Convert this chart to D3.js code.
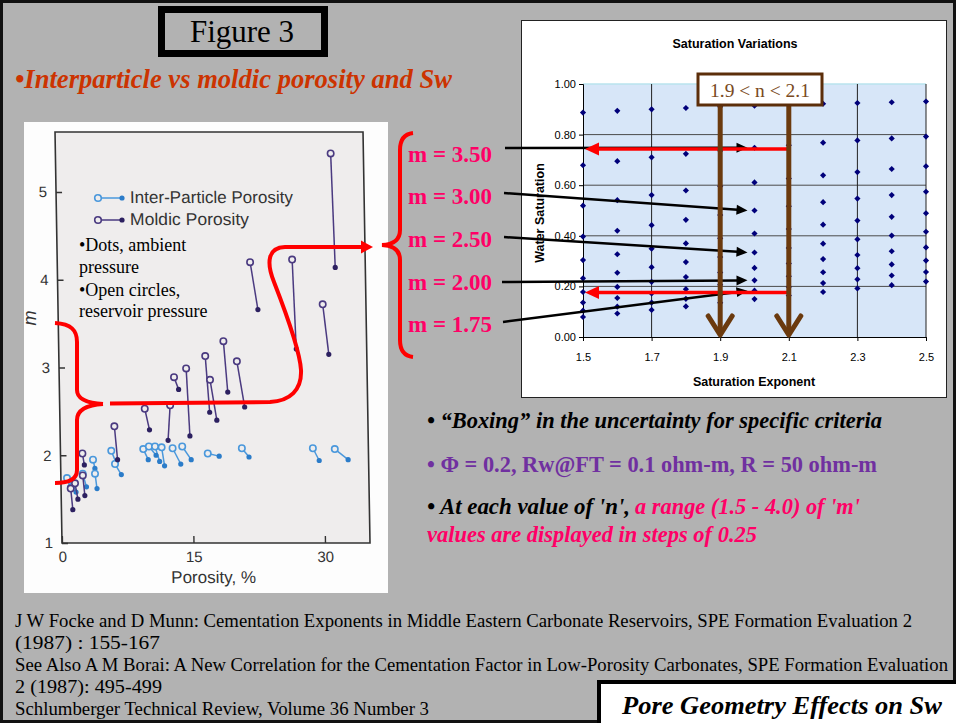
<!DOCTYPE html>
<html><head><meta charset="utf-8">
<script src="https://cdn.jsdelivr.net/npm/d3@7"></script>
<style>body{margin:0;background:#b2b2b2}svg{display:block}</style>
</head><body>
<script>
// ---------------- DATA ----------------
// Right chart: Saturation Variations (Sw vs n, one column per n, one dot per m)
const nValues = [1.5, 1.6, 1.7, 1.8, 1.9, 2.0, 2.1, 2.2, 2.3, 2.4, 2.5];
const mValues = [1.5, 1.75, 2.0, 2.25, 2.5, 2.75, 3.0, 3.25, 3.5, 3.75];
const swByN = [
  [0.079, 0.104, 0.136, 0.178, 0.232, 0.304, 0.397, 0.519, 0.679, 0.887],
  [0.093, 0.120, 0.154, 0.198, 0.254, 0.327, 0.420, 0.541, 0.695, 0.894],
  [0.107, 0.136, 0.172, 0.218, 0.276, 0.349, 0.442, 0.561, 0.710, 0.900],
  [0.121, 0.151, 0.189, 0.237, 0.296, 0.370, 0.463, 0.579, 0.724, 0.905],
  [0.135, 0.167, 0.207, 0.255, 0.316, 0.390, 0.482, 0.596, 0.736, 0.910],
  [0.150, 0.183, 0.224, 0.273, 0.334, 0.409, 0.500, 0.611, 0.748, 0.914],
  [0.164, 0.198, 0.240, 0.291, 0.352, 0.427, 0.517, 0.626, 0.758, 0.918],
  [0.178, 0.213, 0.256, 0.308, 0.369, 0.444, 0.533, 0.639, 0.768, 0.922],
  [0.192, 0.228, 0.272, 0.324, 0.386, 0.460, 0.547, 0.652, 0.777, 0.925],
  [0.205, 0.243, 0.287, 0.339, 0.401, 0.475, 0.561, 0.664, 0.785, 0.928],
  [0.219, 0.257, 0.302, 0.354, 0.416, 0.489, 0.574, 0.675, 0.792, 0.931]
];
const satXTicks = [1.5, 1.7, 1.9, 2.1, 2.3, 2.5];
const satYTicks = [0, 0.2, 0.4, 0.6, 0.8, 1.0];
const highlightM = [3.5, 3.0, 2.5, 2.0, 1.75];
const highlightLabels = ["m = 3.50", "m = 3.00", "m = 2.50", "m = 2.00", "m = 1.75"];
const highlightN = 2.0;
const boxN = [1.9, 2.1];
const boxSw = [0.743, 0.176];

// Left chart: m vs porosity, pairs [phiOpen, mOpen, phiDot, mDot]
const porTicks = [0, 15, 30];
const mTicks = [1, 2, 3, 4, 5];
const interParticle = [
  [0.7, 1.74, 1.0, 1.64], [1.4, 1.67, 1.7, 1.58], [2.5, 1.79, 2.9, 1.64],
  [3.7, 1.95, 3.9, 1.85], [3.9, 1.79, 4.1, 1.62], [5.8, 2.05, 6.3, 1.92],
  [6.2, 1.90, 6.9, 1.78], [9.45, 2.07, 10.0, 1.95], [10.1, 2.10, 10.9, 2.00],
  [10.8, 2.10, 11.3, 1.93], [11.55, 2.09, 11.85, 1.88], [12.8, 2.08, 13.7, 1.90],
  [13.9, 2.10, 14.9, 1.95], [16.8, 2.02, 18.1, 1.99], [20.7, 2.08, 21.5, 1.98],
  [28.8, 2.08, 29.5, 1.94], [31.3, 2.07, 32.8, 1.95]
];
const moldic = [
  [1.1, 1.62, 1.3, 1.38], [1.6, 1.68, 1.9, 1.50], [2.5, 1.77, 2.7, 1.54],
  [2.5, 2.02, 2.7, 1.89], [6.2, 2.33, 6.5, 1.95], [9.7, 2.53, 10.2, 2.29],
  [12.6, 2.57, 12.3, 2.17], [13.1, 2.89, 13.6, 2.75], [14.5, 2.99, 14.8, 2.22],
  [16.7, 3.13, 17.1, 2.49], [17.2, 2.86, 17.9, 2.40], [18.8, 3.30, 19.2, 2.72],
  [20.3, 3.07, 21.1, 2.55], [22.0, 4.20, 22.8, 3.66], [26.8, 4.23, 27.1, 3.21],
  [30.2, 3.72, 30.8, 3.15], [31.4, 5.44, 31.7, 4.14]
];

// ---------------- DRAW ----------------
const SERIF = "'Liberation Serif','Times New Roman',serif";
const SANS = "'Liberation Sans',Arial,Helvetica,sans-serif";
const svg = d3.select("body").append("svg").attr("width", 956).attr("height", 723);

svg.append("rect").attr("width", 956).attr("height", 723).attr("fill", "#b2b2b2");
svg.append("rect").attr("x", 1.5).attr("y", 1.5).attr("width", 953).attr("height", 720)
  .attr("fill", "none").attr("stroke", "#111").attr("stroke-width", 3);

function arrow(g, x1, y1, x2, y2, col, w, hl, hw) {
  const a = Math.atan2(y2 - y1, x2 - x1);
  const bx = x2 - hl * Math.cos(a), by = y2 - hl * Math.sin(a);
  g.append("line").attr("x1", x1).attr("y1", y1).attr("x2", bx + Math.cos(a)).attr("y2", by + Math.sin(a))
    .attr("stroke", col).attr("stroke-width", w);
  g.append("polygon").attr("fill", col).attr("points", [
    [x2, y2],
    [bx + hw * Math.sin(a), by - hw * Math.cos(a)],
    [bx - hw * Math.sin(a), by + hw * Math.cos(a)]
  ].map(p => p.join(",")).join(" "));
}

// Figure 3 title box
svg.append("rect").attr("x", 161.5).attr("y", 9.5).attr("width", 163).attr("height", 44)
  .attr("fill", "none").attr("stroke", "#000").attr("stroke-width", 7);
svg.append("text").attr("x", 242).attr("y", 42).attr("text-anchor", "middle")
  .attr("font-family", SERIF).attr("font-size", 31).attr("fill", "#000").text("Figure 3");

svg.append("text").attr("x", 15).attr("y", 88).attr("font-family", SERIF).attr("font-size", 27)
  .attr("font-weight", "bold").attr("font-style", "italic").attr("fill", "#cc3300")
  .attr("textLength", 437).attr("lengthAdjust", "spacingAndGlyphs")
  .text("•Interparticle vs moldic porosity and Sw");

// ---------------- LEFT SCANNED CHART ----------------
svg.append("rect").attr("x", 24).attr("y", 122).attr("width", 364).attr("height", 471).attr("fill", "#fdfdfd");
const k = 0.017, base = 543;
const lg = svg.append("g").attr("transform", `translate(${-k * base},0) skewX(${Math.atan(k) * 180 / Math.PI})`);
const xL = d3.scaleLinear().domain([0, 30]).range([62, 325]);
const yL = d3.scaleLinear().domain([1, 5]).range([543, 192]);
lg.append("rect").attr("x", 62).attr("y", 132).attr("width", 308).attr("height", 411)
  .attr("fill", "#efeded").attr("stroke", "#333").attr("stroke-width", 1.6);

const axL = lg.append("g").attr("transform", "translate(62,0)")
  .call(d3.axisLeft(yL).tickValues(mTicks).tickSize(-6).tickPadding(9).tickFormat(d3.format("d")));
const axB = lg.append("g").attr("transform", "translate(0,543)")
  .call(d3.axisBottom(xL).tickValues(porTicks).tickSize(-7).tickPadding(8).tickFormat(d3.format("d")));
[axL, axB].forEach(a => {
  a.select(".domain").remove();
  a.selectAll("line").attr("stroke", "#333").attr("stroke-width", 1.4);
  a.selectAll("text").attr("font-family", SANS).attr("font-size", 15).attr("fill", "#333");
});
lg.append("text").attr("x", 213).attr("y", 583).attr("text-anchor", "middle")
  .attr("font-family", SANS).attr("font-size", 17).attr("fill", "#333").text("Porosity, %");

function drawPairs(data, lineCol, dotCol) {
  const g = lg.append("g");
  g.selectAll("line").data(data).join("line")
    .attr("x1", d => xL(d[0])).attr("y1", d => yL(d[1]))
    .attr("x2", d => xL(d[2])).attr("y2", d => yL(d[3]))
    .attr("stroke", lineCol).attr("stroke-width", 1.5);
  g.selectAll("circle.dot").data(data).join("circle").attr("class", "dot")
    .attr("cx", d => xL(d[2])).attr("cy", d => yL(d[3])).attr("r", 2.6).attr("fill", dotCol);
  g.selectAll("circle.open").data(data).join("circle").attr("class", "open")
    .attr("cx", d => xL(d[0])).attr("cy", d => yL(d[1])).attr("r", 3.2)
    .attr("fill", "#efeded").attr("stroke", lineCol).attr("stroke-width", 1.6);
}
drawPairs(interParticle, "#4a98dc", "#2b7cc9");
drawPairs(moldic, "#4a3a80", "#2c2060");

// legend (local, skewed coordinates)
const legend = [["Inter-Particle Porosity", "#4a98dc", "#2b7cc9", 198, 203, 163], ["Moldic Porosity", "#4a3a80", "#2c2060", 220, 225, 119]];
legend.forEach(([t, c, dc, ly, by, tl]) => {
  const off = k * (base - ly);
  lg.append("line").attr("x1", 98 + off).attr("x2", 122 + off).attr("y1", ly).attr("y2", ly).attr("stroke", c).attr("stroke-width", 1.6);
  lg.append("circle").attr("cx", 122 + off).attr("cy", ly).attr("r", 2.6).attr("fill", dc);
  lg.append("circle").attr("cx", 98 + off).attr("cy", ly).attr("r", 3.3).attr("fill", "#efeded").attr("stroke", c).attr("stroke-width", 1.6);
  lg.append("text").attr("x", 130 + off).attr("y", by).attr("font-family", SANS).attr("font-size", 17)
    .attr("fill", "#333").attr("textLength", tl).attr("lengthAdjust", "spacingAndGlyphs").text(t);
});
svg.append("text").attr("transform", "translate(36,318) rotate(-90)").attr("text-anchor", "middle")
  .attr("font-family", SANS).attr("font-style", "italic").attr("font-size", 18).attr("fill", "#333").text("m");

// notes
[["•Dots, ambient", 251], ["pressure", 273], ["•Open circles,", 296], ["reservoir pressure", 317]].forEach(([t, y]) => {
  svg.append("text").attr("x", 79).attr("y", y).attr("font-family", SERIF).attr("font-size", 18).attr("fill", "#000").text(t);
});

// red bracket + connector on left chart
const red = svg.append("g").attr("fill", "none").attr("stroke", "#ff0000").attr("stroke-width", 4);
red.append("path").attr("d", "M55,323 C71,324 77,330 77,342 L77,390 C77,398 86,403 103,404");
red.append("path").attr("d", "M103,404 C86,405 77,410 77,420 L77,470 C77,478 70,483 55,483");
red.append("path").attr("d", "M110,403.5 L270,402 C290,401 302,390 301,370 C300,352 288,318 274,282 C266,262 268,247.5 285,247 L362,247");
svg.append("polygon").attr("fill", "#ff0000").attr("points", "373,247 361,240.5 361,253.5");

// ---------------- RIGHT: SATURATION VARIATIONS ----------------
svg.append("rect").attr("x", 521.5).attr("y", 20.5).attr("width", 425).attr("height", 377)
  .attr("fill", "#fff").attr("stroke", "#222").attr("stroke-width", 1);
const xS = d3.scaleLinear().domain([1.5, 2.5]).range([583, 926]);
const yS = d3.scaleLinear().domain([0, 1]).range([337, 84]);
svg.append("rect").attr("x", 583).attr("y", 84).attr("width", 343).attr("height", 253)
  .attr("fill", "#d7e6f8");
svg.append("line").attr("x1", 583).attr("x2", 926).attr("y1", 84).attr("y2", 84).attr("stroke", "#b9e3ee").attr("stroke-width", 1.5);
const sg = svg.append("g");
sg.selectAll("line.h").data(satYTicks.filter(v => v > 0 && v < 1)).join("line").attr("class", "h")
  .attr("x1", 583).attr("x2", 926).attr("y1", d => yS(d)).attr("y2", d => yS(d)).attr("stroke", "#4a4a4a").attr("stroke-width", 1);
sg.selectAll("line.v").data(satXTicks.slice(1)).join("line").attr("class", "v")
  .attr("y1", 84).attr("y2", 337).attr("x1", d => xS(d)).attr("x2", d => xS(d)).attr("stroke", "#222").attr("stroke-width", 1);
const ay = sg.append("g").attr("transform", "translate(583,0)")
  .call(d3.axisLeft(yS).tickValues(satYTicks).tickSize(4).tickPadding(3).tickFormat(d3.format(".2f")));
const ax = sg.append("g").attr("transform", "translate(0,337)")
  .call(d3.axisBottom(xS).tickValues(satXTicks).tickSize(4).tickPadding(12).tickFormat(d3.format(".1f")));
[ay, ax].forEach(a => {
  a.select(".domain").attr("stroke", "#000");
  a.selectAll("line").attr("stroke", "#000");
  a.selectAll("text").attr("font-family", SANS).attr("font-size", 11).attr("fill", "#000");
});
const pts = [];
nValues.forEach((n, i) => swByN[i].forEach((s, j) => pts.push({ n, m: mValues[j], s })));
sg.selectAll("path.pt").data(pts).join("path").attr("class", "pt")
  .attr("d", d3.symbol(d3.symbolSquare, 19))
  .attr("transform", d => `translate(${xS(d.n)},${yS(d.s)}) rotate(45)`).attr("fill", "#00007a");

svg.append("text").attr("x", 735).attr("y", 48).attr("text-anchor", "middle").attr("font-family", SANS)
  .attr("font-weight", "bold").attr("font-size", 12.5).text("Saturation Variations");
svg.append("text").attr("x", 754).attr("y", 386).attr("text-anchor", "middle").attr("font-family", SANS)
  .attr("font-weight", "bold").attr("font-size", 12.5).text("Saturation Exponent");
svg.append("text").attr("transform", "translate(544,213) rotate(-90)").attr("text-anchor", "middle").attr("font-family", SANS)
  .attr("font-weight", "bold").attr("font-size", 12.5).text("Water Saturation");

// m labels + black arrows
const labelY = [162, 204, 247, 290, 332];
const labelStartX = [505, 504, 504, 502, 503];
const lineY = [148, 193, 237, 282, 322];
const ag = svg.append("g");
highlightM.forEach((m, i) => {
  const sw = swByN[nValues.indexOf(highlightN)][mValues.indexOf(m)];
  arrow(ag, labelStartX[i], lineY[i], xS(highlightN) - 7, yS(sw), "#000", 2.5, 11, 5);
  svg.append("text").attr("x", 408).attr("y", labelY[i]).attr("font-family", SERIF).attr("font-weight", "bold")
    .attr("font-size", 23).attr("fill", "#ff0066").text(highlightLabels[i]);
});
// red brace right
svg.append("path").attr("fill", "none").attr("stroke", "#ff0000").attr("stroke-width", 4)
  .attr("d", "M413,133 C404,134 400,140 400,150 L400,230 C400,240 393,244.5 382,245 C393,245.5 400,250 400,260 L400,340 C400,350 404,356 413,357");

// red horizontal arrows (box limits)
boxSw.forEach(s => arrow(svg, xS(boxN[1]), yS(s), xS(1.5) + 2, yS(s), "#ff0000", 3.5, 14, 6.5));

// brown arrows + box
const brown = "#6b3a0e";
boxN.forEach(n => {
  const x = xS(n);
  svg.append("line").attr("x1", x).attr("x2", x).attr("y1", 104).attr("y2", 334).attr("stroke", brown).attr("stroke-width", 5);
  svg.append("path").attr("d", `M${x - 12},316 L${x},335 L${x + 12},316`).attr("fill", "none").attr("stroke", brown)
    .attr("stroke-width", 5).attr("stroke-linecap", "round").attr("stroke-linejoin", "round");
});
svg.append("rect").attr("x", 698).attr("y", 74).attr("width", 124).attr("height", 31).attr("fill", "#fff")
  .attr("stroke", "#5c2e0a").attr("stroke-width", 3);
svg.append("text").attr("x", 760).attr("y", 97).attr("text-anchor", "middle").attr("font-family", SERIF)
  .attr("font-size", 19.5).attr("fill", "#7a4a22").text("1.9 < n < 2.1");

// ---------------- BULLET TEXT ----------------
const bt = (x, y, t, col, italic, tl) => {
  const e = svg.append("text").attr("x", x).attr("y", y).attr("font-family", SERIF).attr("font-weight", "bold")
    .attr("font-size", 22.5).attr("fill", col).attr("font-style", italic ? "italic" : "normal").text(t);
  if (tl) e.attr("textLength", tl).attr("lengthAdjust", "spacingAndGlyphs");
};
bt(427, 428, "• \u201CBoxing\u201D in the uncertainty for specific criteria", "#000", true, 455);
bt(427, 472, "• \u03A6 = 0.2, Rw@FT = 0.1 ohm-m, R = 50 ohm-m", "#7030a0", false, 450);
bt(427, 514, "• At each value of 'n',", "#000", true, 203);
bt(635, 514, "a range (1.5 - 4.0) of 'm'", "#ff0066", true, 225);
bt(427, 542, "values are displayed in steps of 0.25", "#ff0066", true, 330);

// ---------------- REFERENCES ----------------
const refs = [
  ["J W Focke and D Munn: Cementation Exponents in Middle Eastern Carbonate Reservoirs, SPE Formation Evaluation 2", 627, 897],
  ["(1987) : 155-167", 649, 145],
  ["See Also A M Borai: A New Correlation for the Cementation Factor in Low-Porosity Carbonates, SPE Formation Evaluation", 671, 933],
  ["2 (1987): 495-499", 693, 147],
  ["Schlumberger Technical Review, Volume 36 Number 3", 715, 414]
];
refs.forEach(([t, y, tl]) => {
  svg.append("text").attr("x", 15).attr("y", y).attr("font-family", SERIF).attr("font-size", 18.5).attr("fill", "#000")
    .attr("textLength", tl).attr("lengthAdjust", "spacingAndGlyphs").text(t);
});

svg.append("rect").attr("x", 599).attr("y", 682).attr("width", 360).attr("height", 50).attr("fill", "#fff")
  .attr("stroke", "#000").attr("stroke-width", 4);
svg.append("text").attr("x", 782).attr("y", 714).attr("text-anchor", "middle").attr("font-family", SERIF)
  .attr("font-style", "italic").attr("font-weight", "bold").attr("font-size", 25).attr("fill", "#000")
  .attr("textLength", 320).attr("lengthAdjust", "spacingAndGlyphs").text("Pore Geometry Effects on Sw");
</script>
</body></html>
